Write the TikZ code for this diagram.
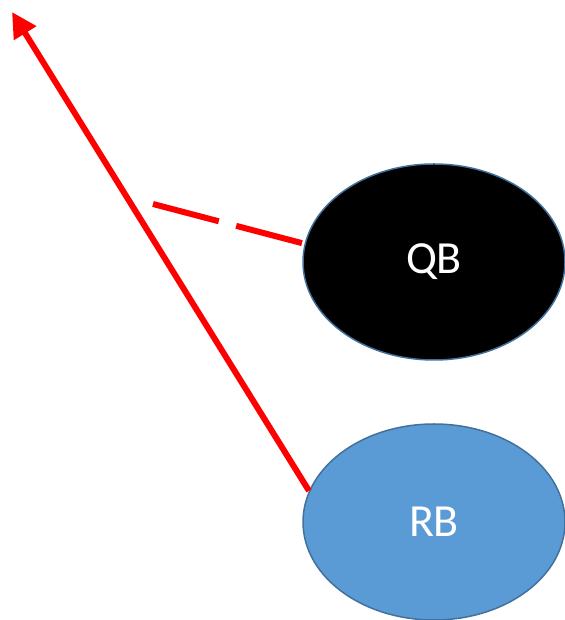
\documentclass[tikz,border=0pt]{standalone}
\usepackage{fontspec}
\setmainfont{Carlito}
\usetikzlibrary{shapes.geometric,arrows.meta}
\definecolor{rimblue}{HTML}{41719C}
\definecolor{fillblue}{HTML}{5B9BD5}
\definecolor{redline}{HTML}{FF0000}
\begin{document}
\begin{tikzpicture}[x=1pt,y=1pt]
\tikzstyle{player}=[ellipse,draw=rimblue,line width=1.5pt,minimum width=262pt,minimum height=196pt,inner sep=0pt,text=white,font=\fontsize{46}{50}\selectfont]
\tikzstyle{route}=[redline,line width=6pt]
\useasboundingbox (0,0) rectangle (564,620);
\node[player,fill=black] (QB) at (434,358) {\raisebox{-4pt}{QB}};
\node[player,fill=fillblue] (RB) at (434,98) {\raisebox{-4pt}{RB}};
\coordinate (tip) at (12,608);
\coordinate (read) at (153,416);
\draw[route,-{Triangle[length=25pt,width=25pt]}] (RB.166) -- (tip);
\draw[route,dash pattern=on 68pt off 18pt] (read) -- (QB.172);
\end{tikzpicture}
\end{document}
